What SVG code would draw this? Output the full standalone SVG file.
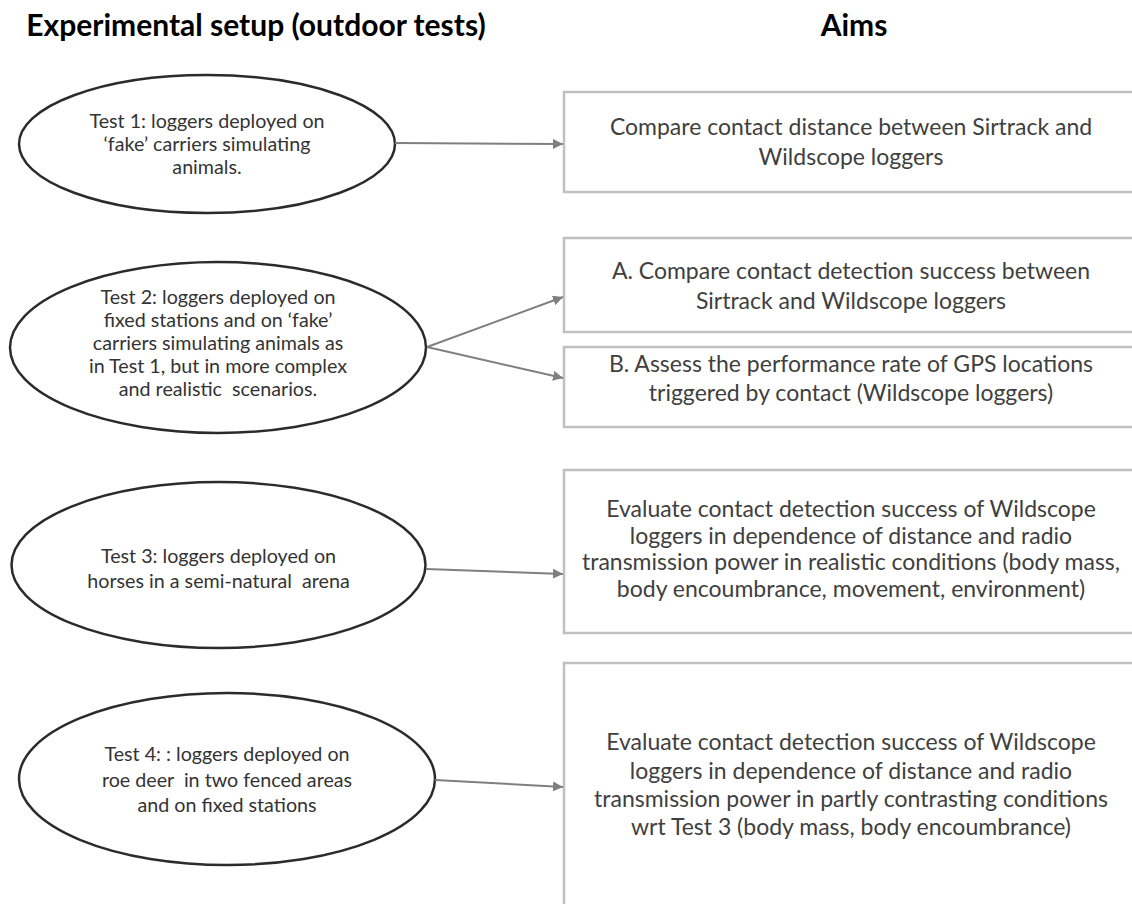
<svg xmlns="http://www.w3.org/2000/svg" width="1132" height="904" viewBox="0 0 1132 904">
<style>
text { font-family: Lato, "Open Sans", "Liberation Sans", sans-serif; text-anchor: middle; white-space: pre; }
.head { font-weight: bold; font-size: 30px; fill: #000; }
.et { font-size: 19.7px; fill: #333; }
.bt { font-size: 23px; fill: #404040; }
.ell { fill: #fff; stroke: #2b2b2b; stroke-width: 2.5; }
.box { fill: #fff; stroke: #c0c0c0; stroke-width: 2.5; }
.conn { stroke: #7f7f7f; stroke-width: 2; fill: none; marker-end: url(#ah); }
</style>
<defs>
<marker id="ah" viewBox="0 0 10 10" refX="10" refY="5" markerWidth="5" markerHeight="5" orient="auto" markerUnits="strokeWidth">
<path d="M0,0 L10,5 L0,10 z" fill="#7f7f7f"/>
</marker>
</defs>
<rect width="1132" height="904" fill="#fff"/>
<g id="headers">
<text class="head" x="256" y="36">Experimental setup (outdoor tests)</text>
<text class="head" x="854" y="36">Aims</text>
</g>
<g id="test1">
<ellipse class="ell" cx="207" cy="144" rx="188" ry="69"/>
<text class="et" x="207" y="128">Test 1: loggers deployed on</text>
<text class="et" x="207" y="151">‘fake’ carriers simulating</text>
<text class="et" x="207" y="174">animals.</text>
</g>
<g id="aim1">
<rect class="box" x="564" y="92" width="580" height="100"/>
<text class="bt" x="851" y="135">Compare contact distance between Sirtrack and</text>
<text class="bt" x="851" y="165">Wildscope loggers</text>
</g>
<g id="test2">
<ellipse class="ell" cx="218" cy="347.5" rx="208" ry="85.5"/>
<text class="et" x="218" y="304">Test 2: loggers deployed on</text>
<text class="et" x="218" y="327">fixed stations and on ‘fake’</text>
<text class="et" x="218" y="350">carriers simulating animals as</text>
<text class="et" x="218" y="373">in Test 1, but in more complex</text>
<text class="et" x="218" y="396">and realistic  scenarios.</text>
</g>
<g id="aim2a">
<rect class="box" x="564" y="238" width="580" height="94"/>
<text class="bt" x="851" y="279">A. Compare contact detection success between</text>
<text class="bt" x="851" y="309">Sirtrack and Wildscope loggers</text>
</g>
<g id="aim2b">
<rect class="box" x="564" y="347" width="580" height="80"/>
<text class="bt" x="851" y="372">B. Assess the performance rate of GPS locations</text>
<text class="bt" x="851" y="401">triggered by contact (Wildscope loggers)</text>
</g>
<g id="test3">
<ellipse class="ell" cx="218.5" cy="565" rx="207" ry="83"/>
<text class="et" x="218.5" y="563">Test 3: loggers deployed on</text>
<text class="et" x="218.5" y="588">horses in a semi-natural  arena</text>
</g>
<g id="aim3">
<rect class="box" x="564" y="470" width="580" height="163"/>
<text class="bt" x="851" y="517">Evaluate contact detection success of Wildscope</text>
<text class="bt" x="851" y="544">loggers in dependence of distance and radio</text>
<text class="bt" x="851" y="570">transmission power in realistic conditions (body mass,</text>
<text class="bt" x="851" y="597">body encoumbrance, movement, environment)</text>
</g>
<g id="test4">
<ellipse class="ell" cx="227" cy="779" rx="208" ry="86"/>
<text class="et" x="227" y="761">Test 4: : loggers deployed on</text>
<text class="et" x="227" y="787">roe deer  in two fenced areas</text>
<text class="et" x="227" y="812">and on fixed stations</text>
</g>
<g id="aim4">
<rect class="box" x="564" y="663" width="580" height="260"/>
<text class="bt" x="851" y="750">Evaluate contact detection success of Wildscope</text>
<text class="bt" x="851" y="779">loggers in dependence of distance and radio</text>
<text class="bt" x="851" y="807">transmission power in partly contrasting conditions</text>
<text class="bt" x="851" y="835">wrt Test 3 (body mass, body encoumbrance)</text>
</g>
<g id="connectors">
<line class="conn" x1="395" y1="143" x2="563" y2="144"/>
<line class="conn" x1="427" y1="347" x2="563" y2="297"/>
<line class="conn" x1="427" y1="347" x2="563" y2="378"/>
<line class="conn" x1="426" y1="569" x2="563" y2="574"/>
<line class="conn" x1="435" y1="780" x2="563" y2="787"/>
</g>
</svg>
